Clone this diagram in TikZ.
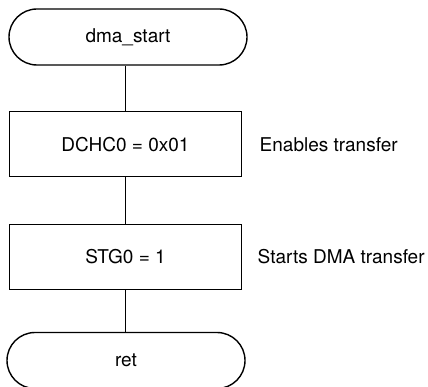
\documentclass[tikz,border=0pt]{standalone}
\usepackage{fontspec}
\setmainfont{TeX Gyre Heros}
\usetikzlibrary{shapes.misc}
\begin{document}
\begin{tikzpicture}[x=1pt, y=-1pt, line width=1.4pt,
  every node/.style={font=\fontsize{19}{22}\selectfont},
  term/.style={draw, rounded rectangle, minimum width=238pt, minimum height=56pt, inner sep=0pt},
  proc/.style={draw, rectangle, minimum width=232pt, minimum height=65pt, inner sep=0pt},
  note/.style={anchor=west, inner sep=0pt}]
\useasboundingbox (0,0) rectangle (428,387);

%start
\node[term] (start) at (128,37) {dma\_start};

%DMA steps
\node[proc] (dchc) at (125.5,144.2) {DCHC0 = 0x01};
\node[note] (dchcnote) at (259,145) {Enables transfer};
\node[proc] (stg) at (125.5,257) {STG0 = 1};
\node[note] (stgnote) at (257,257) {Starts DMA transfer};

%return
\node[term] (ret) at (126,360.5) {ret};

\draw (dchc.north) -- (dchc.north |- start.south);
\draw (dchc) -- (stg);
\draw (stg.south) -- (stg.south |- ret.north);
\end{tikzpicture}
\end{document}
